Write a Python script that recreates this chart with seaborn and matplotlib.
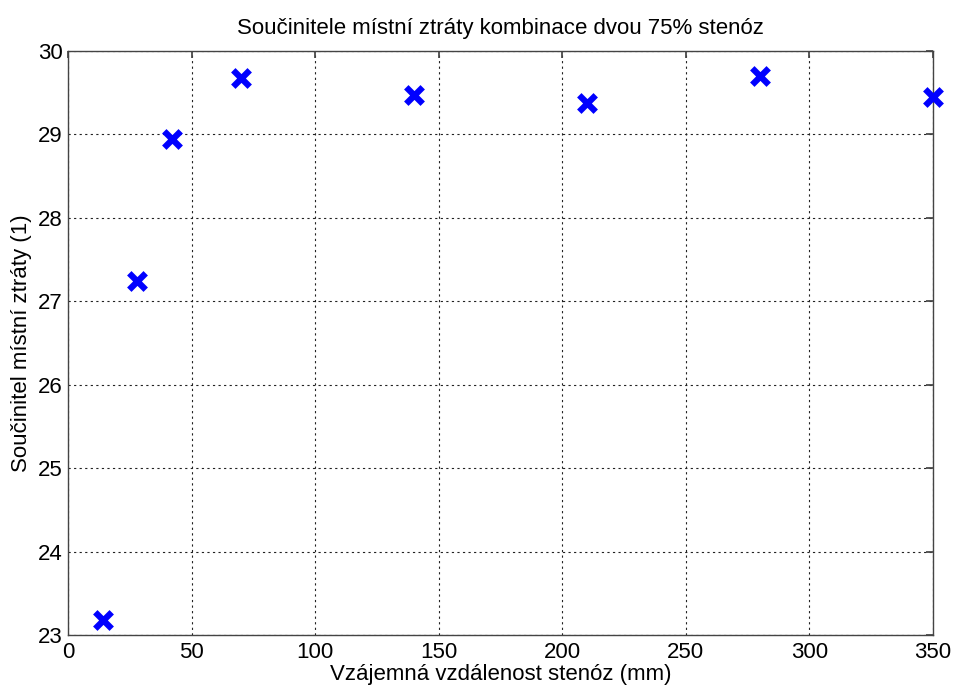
import matplotlib
matplotlib.use("Agg")
import matplotlib.pyplot as plt
import seaborn as sns
import pandas as pd

# Distance between the two stenoses (mm) and the local loss coefficient
distance_mm = [14, 28, 42, 70, 140, 210, 280, 350]
loss_coef = [23.18, 27.24, 28.95, 29.68, 29.47, 29.38, 29.70, 29.45]

x_ticks = [0, 50, 100, 150, 200, 250, 300, 350]
y_ticks = [23, 24, 25, 26, 27, 28, 29, 30]

sns.set_theme(style="white")
plt.rcParams["font.family"] = ["Liberation Sans", "DejaVu Sans"]
plt.rcParams["text.color"] = "black"
plt.rcParams["axes.labelcolor"] = "black"
plt.rcParams["xtick.color"] = "black"
plt.rcParams["ytick.color"] = "black"

df = pd.DataFrame({"distance": distance_mm, "coef": loss_coef})

fig = plt.figure(figsize=(9.54, 6.89), dpi=100)
ax = fig.add_axes([0.0713, 0.0784, 0.9067, 0.8476])

sns.scatterplot(data=df, x="distance", y="coef", ax=ax, marker="x",
                color="#0000ff", s=140, linewidth=4.5, zorder=3, clip_on=False)

ax.set_xlim(0, 350)
ax.set_ylim(23, 30)
ax.set_xticks(x_ticks)
ax.set_yticks(y_ticks)
ax.tick_params(axis="both", labelsize=16, direction="in", length=5,
               color="#444444", labelcolor="black", top=True, right=True)
ax.tick_params(axis="x", pad=5)
ax.tick_params(axis="y", pad=4)
ax.grid(True, color="#222222", linestyle=(0, (2, 3)), linewidth=0.8)

for s in ax.spines.values():
    s.set_color("#444444")
    s.set_linewidth(1.0)

ax.set_title("Součinitele místní ztráty kombinace dvou 75% stenóz", fontsize=16, pad=12)
ax.set_xlabel("Vzájemná vzdálenost stenóz (mm)", fontsize=16, labelpad=1)
ax.set_ylabel("Součinitel místní ztráty (1)", fontsize=16, labelpad=4)

fig.savefig("out.png", dpi=100, facecolor="white")
